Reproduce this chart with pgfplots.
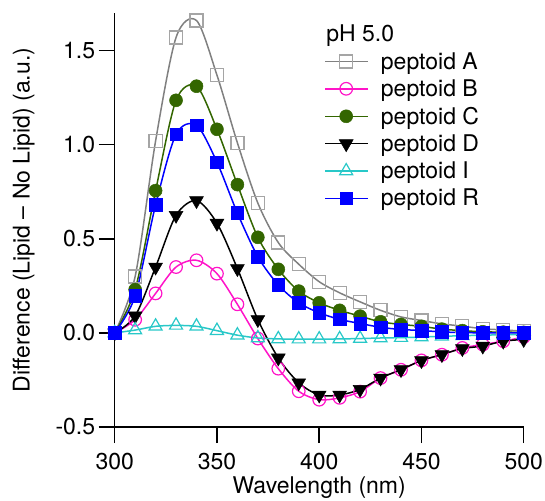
\documentclass[border=0pt]{standalone}
\usepackage{fontspec}
\setmainfont{TeX Gyre Heros}
\usepackage{pgfplots}
\pgfplotsset{compat=1.18}
\definecolor{cA}{RGB}{128,128,128}
\definecolor{cAm}{RGB}{165,165,165}
\definecolor{cB}{RGB}{255,20,200}
\definecolor{cC}{RGB}{51,102,0}
\definecolor{cI}{RGB}{40,200,200}
\definecolor{cR}{RGB}{0,0,255}
\begin{document}
\begin{tikzpicture}
\begin{axis}[
 scale only axis, width=409pt, height=414pt,
 xmin=300, xmax=500, ymin=-0.5, ymax=1.7,
 axis lines*=left, axis line style={line width=1.5pt},
 tick align=outside, major tick length=16pt, tick style={line width=1.5pt, black},
 xtick={300,350,400,450,500}, ytick={-0.5,0,0.5,1,1.5},
 font=\fontsize{23}{27}\selectfont,
 /pgf/number format/assume math mode=true,
 yticklabel style={/pgf/number format/.cd, fixed, fixed zerofill, precision=1},
 xticklabel style={yshift=-7pt},
 xlabel={Wavelength (nm)}, ylabel={Difference (Lipid – No Lipid) (a.u.)},
 ylabel shift=14pt, xlabel shift=0pt,
 legend style={draw=none, fill=none, at={(rel axis cs:0.505,0.915)}, anchor=north west, font=\fontsize{23}{27}\selectfont, row sep=5pt},
 legend cell align=left,
 legend image code/.code={\draw[mark repeat=2,mark phase=2] plot coordinates {(0pt,0pt)(21pt,0pt)(42pt,0pt)}; \path (53pt,0pt);},
 every axis plot/.append style={line width=1.5pt, smooth},
 clip=false,
]
\addplot[cA, mark=square, mark size=6.5pt, mark options={cAm, line width=1.2pt}] table {
300 0
310 0.30
320 1.02
330 1.57
340 1.66
350 1.37
360 1.01
370 0.69
380 0.48
390 0.365
400 0.272
410 0.213
420 0.165
430 0.12
440 0.085
450 0.066
460 0.048
470 0.036
480 0.022
490 0.016
500 0.009
};
\addlegendentry{peptoid A}
\addplot[cB, mark=o, mark size=6.3pt, mark options={line width=1.2pt}] table {
300 0
310 0.07
320 0.21
330 0.35
340 0.386
350 0.315
360 0.152
370 -0.03
380 -0.19
390 -0.31
400 -0.355
410 -0.345
420 -0.312
430 -0.24
440 -0.196
450 -0.146
460 -0.116
470 -0.08
480 -0.062
490 -0.044
500 -0.022
};
\addlegendentry{peptoid B}
\addplot[cC, mark=*, mark size=6.5pt, mark options={line width=0.5pt}] table {
300 0
310 0.23
320 0.756
330 1.236
340 1.311
350 1.082
360 0.788
370 0.508
380 0.338
390 0.222
400 0.16
410 0.12
420 0.089
430 0.059
440 0.045
450 0.035
460 0.02
470 0.012
480 0.006
490 0.004
500 0.003
};
\addlegendentry{peptoid C}
\addplot[black, mark=triangle*, mark size=8pt, mark options={rotate=180, line width=0.5pt}] table {
300 0
310 0.09
320 0.35
330 0.625
340 0.703
350 0.583
360 0.342
370 0.071
380 -0.133
390 -0.265
400 -0.33
410 -0.33
420 -0.3
430 -0.24
440 -0.195
450 -0.147
460 -0.115
470 -0.083
480 -0.07
490 -0.044
500 -0.035
};
\addlegendentry{peptoid D}
\addplot[cI, mark=triangle, mark size=7.5pt, mark options={line width=1.2pt}] table {
300 0
310 0.015
320 0.035
330 0.04
340 0.035
350 0.012
360 -0.012
370 -0.027
380 -0.032
390 -0.033
400 -0.033
410 -0.032
420 -0.03
430 -0.027
440 -0.025
450 -0.022
460 -0.018
470 -0.015
480 -0.012
490 -0.01
500 -0.008
};
\addlegendentry{peptoid I}
\addplot[cR, mark=square*, mark size=6.3pt, mark options={line width=0.5pt}] table {
300 0
310 0.196
320 0.68
330 1.055
340 1.103
350 0.907
360 0.637
370 0.405
380 0.255
390 0.16
400 0.107
410 0.072
420 0.05
430 0.03
440 0.018
450 0.013
460 0.005
470 0.002
480 0
490 0
500 0
};
\addlegendentry{peptoid R}
\node[anchor=west, font=\fontsize{23}{27}\selectfont] at (rel axis cs:0.509,0.945) {pH 5.0};
\end{axis}
\pgfresetboundingbox
\path (current axis.south west) ++(-114.7pt,-73pt) rectangle ++(545pt,500pt);
\end{tikzpicture}
\end{document}
